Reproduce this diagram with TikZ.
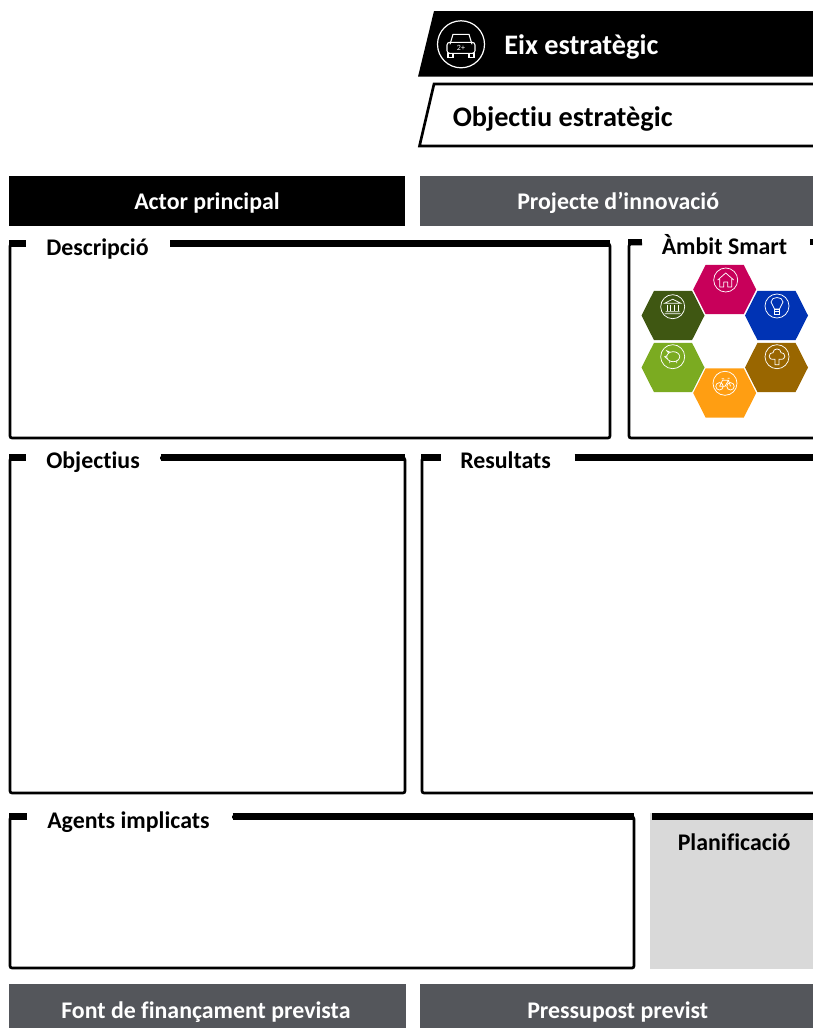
\documentclass[tikz,border=0pt]{standalone}
\usepackage{fontspec}
\setmainfont[RawFeature={-liga;-dlig}]{Carlito}
\definecolor{slateg}{HTML}{54565B}
\definecolor{panelg}{HTML}{D9D9D9}
\definecolor{hpink}{HTML}{C8005A}
\definecolor{hblue}{HTML}{0033B4}
\definecolor{hbrown}{HTML}{996600}
\definecolor{horange}{HTML}{FF9E12}
\definecolor{hlime}{HTML}{7BAB21}
\definecolor{hdark}{HTML}{3F5712}
\tikzset{
  x=0.75pt,y=-0.75pt,
  flabel/.style={anchor=base west,inner sep=0pt,text=black,font=\fontsize{17.9}{20}\bfseries\selectfont},
  framebody/.style={draw=black,line width=2pt,rounded corners=1.5pt},
  framebar/.style={draw=black,line width=5pt,line cap=butt},
  ico/.style={draw=white,line width=0.55pt,fill=none},
}
\newcommand{\hexcell}[3]{\fill[#3] (#1-31.5,#2) -- (#1-19,#2-24.7) -- (#1+19,#2-24.7) -- (#1+31.5,#2) -- (#1+19,#2+24.7) -- (#1-19,#2+24.7) -- cycle;}
\newcommand{\icring}[2]{\draw[ico] (#1,#2) circle (12);}
\begin{document}
\begin{tikzpicture}
\useasboundingbox (0,0) rectangle (813,1028);
\clip (0,0) rectangle (813,1028);
% top banners
\fill[black] (434,11) -- (813,11) -- (813,76.7) -- (418,76.7) -- cycle;
\draw[black,line width=2pt] (815,84) -- (434,84) -- (419.5,146) -- (815,146);
\draw[white,line width=0.9pt] (461,44.3) circle (23.5);
% car icon
\begin{scope}[shift={(461,44.3)}]
\draw[white,line width=0.8pt,line join=round] (-11,0) -- (-8,-10) -- (8,-10) -- (11,0);
\draw[white,line width=0.8pt,rounded corners=2pt] (-14,-2) rectangle (14,9);
\draw[white,line width=0.8pt] (-13,9) rectangle (-8,13) (8,9) rectangle (13,13);
\node[text=white,inner sep=0pt,font=\fontsize{6}{6}\selectfont] (carlabel) at (0,3.5) {2+};
\end{scope}
\node[anchor=base west,inner sep=0pt,text=white,font=\fontsize{21.2}{24}\bfseries\selectfont] (eix) at (504,54) {Eix estratègic};
\node[anchor=base west,inner sep=0pt,text=black,font=\fontsize{21.2}{24}\bfseries\selectfont] (obj) at (452.5,126) {Objectiu estratègic};
% header boxes
\node[fill=black,draw=none,minimum width=297pt,minimum height=37.5pt,inner sep=0pt] (actor) at (207,201) {};
\node[flabel,text=white] (actort) at (134,209) {Actor principal};
\node[fill=slateg,minimum width=295pt,minimum height=37.5pt,inner sep=0pt] (proj) at (616.5,201) {};
\node[flabel,text=white] (projt) at (517,209) {Projecte d’innovació};
% Descripcio
\draw[framebody] (25,244) -- (10,244) -- (10,438) -- (610,438) -- (610,244) -- (170,244);
\draw[framebar] (9,243.5) -- (26,243.5) (170,243.5) -- (610,243.5);
\node[flabel] (desc) at (46,255) {Descripció};
% Ambit
\draw[framebody] (642,244) -- (629,244) -- (629,438) -- (820,438);
\draw[framebar] (628,242) -- (642,242) (810,242) -- (820,242);
\node[flabel] (ambit) at (661.5,254) {Àmbit Smart};
% Objectius
\draw[framebody] (25,458) -- (10,458) -- (10,793) -- (405,793) -- (405,458) -- (160,458);
\draw[framebar] (9,457.5) -- (26,457.5) (161,457.5) -- (405,457.5);
\node[flabel] (objs) at (46,468) {Objectius};
% Resultats
\draw[framebody] (440,458) -- (422,458) -- (422,793) -- (820,793);
\draw[framebar] (421,457.5) -- (441,457.5) (574.5,457.5) -- (820,457.5);
\node[flabel] (res) at (460,468) {Resultats};
% Agents
\draw[framebody] (25,817) -- (10,817) -- (10,968) -- (634,968) -- (634,817) -- (232,817);
\draw[framebar] (9,816.5) -- (26.5,816.5) (232.5,816.5) -- (634,816.5);
\node[flabel] (agents) at (47,828) {Agents implicats};
% Planificacio
\node[fill=panelg,inner sep=0pt,minimum width=122.25pt,minimum height=117pt] (plan) at (731.5,891) {};
\fill[black] (651.5,813) rectangle (813,820);
\node[flabel] (plant) at (677.5,850) {Planificació};
% bottom boxes
\node[fill=slateg,minimum width=297.75pt,minimum height=33pt,inner sep=0pt] (font) at (207.5,1006) {};
\node[flabel,text=white] (fontt) at (61,1018) {Font de finançament prevista};
\node[fill=slateg,minimum width=295pt,minimum height=33pt,inner sep=0pt] (press) at (616.5,1006) {};
\node[flabel,text=white] (presst) at (527,1018) {Pressupost previst};
% hexagons
\hexcell{724.7}{289.5}{hpink}
\hexcell{673}{315.5}{hdark}
\hexcell{776.5}{315.5}{hblue}
\hexcell{673}{367.5}{hlime}
\hexcell{776.5}{367.5}{hbrown}
\hexcell{724.7}{393}{horange}
% icons
\icring{725.7}{280}
\icring{672.7}{306.7}
\icring{777}{306}
\icring{672.7}{356.7}
\icring{777}{356.7}
\icring{725}{383.3}
% house
\begin{scope}[shift={(725.7,280)}]
\draw[ico,line join=round] (-8,0) -- (0,-7) -- (8,0) (-6,-1) -- (-6,7) -- (-2,7) -- (-2,2) -- (2,2) -- (2,7) -- (6,7) -- (6,-1);
\end{scope}
% bank
\begin{scope}[shift={(672.7,306.7)}]
\draw[ico] (-8,-3.5) -- (0,-7.5) -- (8,-3.5) -- cycle (-8,7) -- (8,7) (-7,5) -- (7,5);
\draw[ico] (-5.5,-2) -- (-5.5,4) (-2,-2) -- (-2,4) (2,-2) -- (2,4) (5.5,-2) -- (5.5,4);
\end{scope}
% bulb
\begin{scope}[shift={(777,306)}]
\draw[ico] (-2.5,3) .. controls (-2.5,0) and (-6,-1) .. (-6,-4) .. controls (-6,-10) and (6,-10) .. (6,-4) .. controls (6,-1) and (2.5,0) .. (2.5,3) -- cycle;
\draw[ico] (-2.5,3) rectangle (2.5,8) (-2.5,5.5) -- (2.5,5.5);
\end{scope}
% piggy
\begin{scope}[shift={(672.7,356.7)}]
\draw[ico] (0.5,0) ellipse (6.5 and 5);
\draw[ico] (-4,-3.5) -- (-6,-6) -- (-2.5,-4.5) (-5.5,-1) -- (-8,0) -- (-5,2.5) (-3,4) -- (-3,6.5) (4,4) -- (4,6.5);
\end{scope}
% tree
\begin{scope}[shift={(777,356.7)}]
\draw[ico] (-2,2.5) .. controls (-11,4) and (-8,-5) .. (-4,-4) .. controls (-4,-9) and (4,-9) .. (4,-4) .. controls (8,-5) and (11,4) .. (2,2.5) -- (2,8) -- (-2,8) -- cycle;
\end{scope}
% bike
\begin{scope}[shift={(725,383.3)}]
\draw[ico] (-5.5,3) circle (3.7) (5.5,3) circle (3.7);
\draw[ico] (-5.5,3) -- (-2.5,-3) -- (3.5,-3) -- (0,3) -- (-5.5,3) (3.5,-3) -- (5.5,3) (-3.5,-4.5) -- (-1,-4.5) (2.5,-5) -- (4.5,-5);
\end{scope}
\end{tikzpicture}
\end{document}
